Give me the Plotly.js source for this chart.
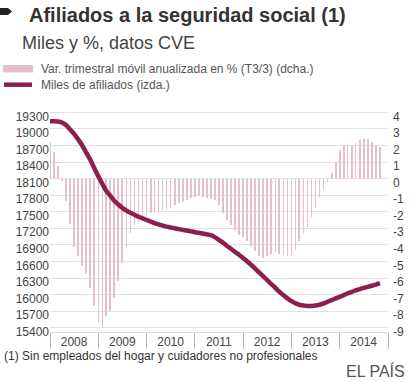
<!DOCTYPE html>
<html>
<head>
<meta charset="utf-8">
<script src="https://cdn.plot.ly/plotly-3.0.1.min.js"></script>
<style>
html,body{margin:0;padding:0;background:#fff;}
#chart{width:414px;height:382px;}
</style>
</head>
<body>
<div id="chart"></div>
<script>
// ---- Data ----
const startYear = 2008;
const nMonths = 83; // Jan 2008 .. Nov 2014
const years = ['2008','2009','2010','2011','2012','2013','2014'];

// Var. trimestral móvil anualizada en % (T3/3) (dcha.)
const varTrimestral = [
  2.2, 1.6, 0.75, -0.15, -1.35, -2.75, -4.1, -4.7, -5.3, -5.7, -6.6, -7.7,
  -8.7, -9.0, -8.3, -8.0, -7.2, -6.2, -5.1, -4.1, -3.3, -2.8, -2.6, -2.4,
  -2.2, -2.1, -2.0, -1.95, -1.9, -1.85, -1.75, -1.6, -1.5, -1.4, -1.3, -1.2,
  -1.1, -1.05, -1.1, -1.2, -1.25, -1.3, -1.6, -2.1, -2.5, -2.8, -3.1, -3.4,
  -3.55, -3.75, -4.05, -4.35, -4.65, -4.8, -4.7, -4.55, -4.5, -4.55, -4.6, -4.7,
  -4.65, -4.3, -3.75, -3.3, -2.9, -2.3, -1.8, -1.2, -0.7, -0.2, 0.35, 1.0,
  1.7, 2.0, 2.05, 2.05, 2.15, 2.3, 2.4, 2.4, 2.2, 2.0, 1.9
];

// Miles de afiliados (izda.)
const milesAfiliados = [
  19140, 19140, 19135, 19115, 19070, 18990, 18910, 18810, 18700, 18570, 18440, 18290,
  18140, 18000, 17880, 17790, 17700, 17630, 17570, 17520, 17480, 17445, 17410, 17380,
  17350, 17320, 17295, 17270, 17250, 17230, 17215, 17200, 17185, 17170, 17160, 17145,
  17130, 17120, 17105, 17090, 17075, 17040, 16990, 16940, 16880, 16830, 16770, 16720,
  16660, 16600, 16540, 16470, 16400, 16330, 16260, 16190, 16120, 16050, 15990, 15930,
  15880, 15840, 15815, 15800, 15795, 15795, 15800, 15815, 15840, 15870, 15900, 15930,
  15960, 15990, 16020, 16050, 16075, 16100, 16120, 16140, 16160, 16180, 16205
];

const leftTickVals = [19300,19000,18700,18400,18100,17800,17500,17200,16900,16600,16300,16000,15700,15400];
const leftTickText = leftTickVals.map(String);
const rightTickVals = [4,3,2,1,0,-1,-2,-3,-4,-5,-6,-7,-8,-9];
const rightTickText = ['4','3','2','1','0','-1','-2','-3','-4','-5','-6','-7','-8','-9'];

// month dates (x categories)
const months = [];
for (let i = 0; i < nMonths; i++) {
  const y = startYear + Math.floor(i / 12), m = (i % 12) + 1;
  months.push(y + '-' + String(m).padStart(2, '0') + '-01');
}
const yearMid = years.map(y => y + '-07-01');

// ---- Layout helpers ----
const W = 414, H = 382, L = 50, R = 26, T = 110, B = 50;
const pw = W - L - R, ph = H - T - B;
const px = v => (v - L) / pw;
const py = v => (H - B - v) / ph;

const FONT = 'Liberation Sans, Arial, Helvetica, sans-serif';
const lineColor = '#8b1f4e';
const barColor = '#e6bfcc';

const traces = [
  {
    type: 'bar', x: months, y: varTrimestral, yaxis: 'y',
    width: 13 * 86400000,
    marker: { color: barColor, line: { width: 0 } },
    hoverinfo: 'skip', showlegend: false
  },
  {
    type: 'scatter', mode: 'lines', x: months, y: milesAfiliados, yaxis: 'y2',
    line: { color: lineColor, width: 4.5, shape: 'spline', smoothing: 0.8 },
    hoverinfo: 'skip', showlegend: false
  }
];

const layout = {
  width: W, height: H,
  margin: { l: L, r: R, t: T, b: B, pad: 0 },
  paper_bgcolor: '#fff', plot_bgcolor: '#fff',
  font: { family: FONT, color: '#444', size: 12 },
  showlegend: false,
  bargap: 0,
  xaxis: {
    type: 'date',
    range: ['2008-01-01', '2015-01-01'],
    tickmode: 'array', tickvals: yearMid, ticktext: years,
    ticks: '', showgrid: false, zeroline: false,
    showline: true, linecolor: '#dddddd', linewidth: 1,
    tickfont: { family: FONT, size: 12, color: '#444' },
    ticklabelstandoff: -1,
    minor: { ticks: 'outside', ticklen: 16, tickcolor: '#bbbbbb', tickwidth: 1,
             dtick: 'M12', tick0: '2008-01-01', showgrid: false },
    fixedrange: true
  },
  yaxis: {
    side: 'right',
    range: [-9.259, 4.139],
    tickmode: 'array', tickvals: rightTickVals, ticktext: rightTickText,
    ticks: '', showgrid: true, gridcolor: '#e2e2e2', gridwidth: 1,
    zeroline: false, showline: false,
    tickfont: { family: FONT, size: 12, color: '#444' },
    ticklabelstandoff: 4, ticklabelshift: 4,
    fixedrange: true
  },
  yaxis2: {
    overlaying: 'y', side: 'left',
    range: [15322, 19342],
    tickmode: 'array', tickvals: leftTickVals, ticktext: leftTickText,
    ticks: '', showgrid: false, zeroline: false, showline: false,
    tickfont: { family: FONT, size: 12, color: '#444' },
    ticklabelshift: 4,
    fixedrange: true
  },
  shapes: [
    // title bullet
    { type: 'path', xref: 'paper', yref: 'paper',
      path: `M${px(0)},${py(8)} L${px(8)},${py(8)} L${px(12)},${py(11.5)} L${px(8)},${py(15)} L${px(0)},${py(15)} Z`,
      fillcolor: '#222', line: { width: 0 } },
    // legend icons
    { type: 'rect', xref: 'paper', yref: 'paper',
      x0: px(3), x1: px(33), y0: py(65), y1: py(72.5),
      fillcolor: barColor, line: { width: 0 } },
    { type: 'line', xref: 'paper', yref: 'paper',
      x0: px(4), x1: px(32), y0: py(84.7), y1: py(84.7),
      line: { color: lineColor, width: 4.5 } }
  ],
  annotations: [
    { text: 'Afiliados a la seguridad social (1)', xref: 'paper', yref: 'paper',
      x: px(27), y: py(14.5), xanchor: 'left', yanchor: 'middle', showarrow: false,
      font: { family: FONT, size: 20, color: '#333', weight: 'bold' } },
    { text: 'Miles y %, datos CVE', xref: 'paper', yref: 'paper',
      x: px(20), y: py(42.5), xanchor: 'left', yanchor: 'middle', showarrow: false,
      font: { family: FONT, size: 18, color: '#444' } },
    { text: 'Var. trimestral móvil anualizada en % (T3/3) (dcha.)', xref: 'paper', yref: 'paper',
      x: px(39), y: py(68.7), xanchor: 'left', yanchor: 'middle', showarrow: false,
      font: { family: FONT, size: 12, color: '#555' } },
    { text: 'Miles de afiliados (izda.)', xref: 'paper', yref: 'paper',
      x: px(39), y: py(84.7), xanchor: 'left', yanchor: 'middle', showarrow: false,
      font: { family: FONT, size: 12, color: '#555' } },
    { text: '(1) Sin empleados del hogar y cuidadores no profesionales', xref: 'paper', yref: 'paper',
      x: px(2), y: py(356), xanchor: 'left', yanchor: 'middle', showarrow: false,
      font: { family: FONT, size: 12, color: '#333' } },
    { text: 'EL PAÍS', xref: 'paper', yref: 'paper',
      x: px(407), y: py(382), xanchor: 'right', yanchor: 'bottom', showarrow: false,
      font: { family: FONT, size: 16, color: '#555' } }
  ]
};

Plotly.newPlot('chart', traces, layout, { displayModeBar: false, staticPlot: true });
</script>
</body>
</html>
